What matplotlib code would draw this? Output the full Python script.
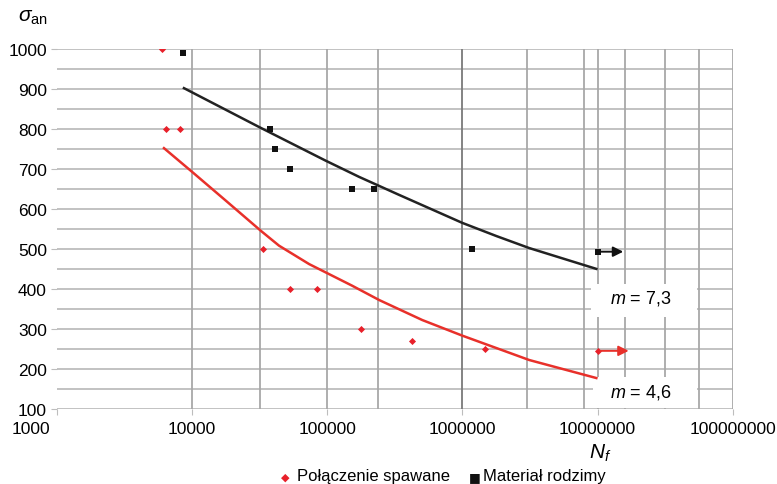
import matplotlib.pyplot as plt
from matplotlib.patches import Rectangle
from matplotlib.transforms import ScaledTranslation

plt.rcParams['font.family'] = ['Liberation Sans', 'DejaVu Sans']
plt.rcParams['mathtext.fontset'] = 'custom'
plt.rcParams['mathtext.rm'] = 'Liberation Sans'
plt.rcParams['mathtext.it'] = 'Liberation Sans:italic'

# punkty pomiarowe - połączenie spawane
weld_n = [6000, 6400, 8100, 33600, 53000, 84000, 178000, 427000, 1480000]
weld_s = [1000, 800, 800, 500, 400, 400, 300, 270, 250]
weld_runout = [10000000, 245]

# punkty pomiarowe - materiał rodzimy
base_n = [8600, 37800, 41200, 53000, 153000, 223000, 1170000]
base_s = [990, 800, 750, 700, 650, 650, 500]
base_runout = [10000000, 493]

# krzywe Wöhlera
base_curve_n = [8730, 31300, 55100, 98400, 172600, 341000, 1000000, 1790000, 3130000, 9800000]
base_curve_s = [902, 805, 763, 720, 680, 635, 565, 532, 502, 450]
weld_curve_n = [6210, 10000, 17900, 32400, 44100, 73600, 153000, 243000, 506000,
                1000000, 3130000, 9800000]
weld_curve_s = [752, 693, 620, 545, 508, 462, 408, 372, 322, 283, 222, 177]

x_ticks = [1000, 10000, 100000, 1000000, 10000000, 100000000]
x_grid = [1e4, 10**4.5, 1e5, 10**5.38, 1e6, 10**6.48, 10**6.9, 1e7, 10**7.2, 10**7.5, 10**7.75, 1e8]

fig = plt.figure(figsize=(7.77, 4.85), dpi=100)
ax = fig.add_axes([0.073, 0.155, 0.870, 0.742])

for y in range(100, 1001, 50):
    ax.axhline(y, color='#bdbdbd', lw=1.3, zorder=0)
for x in x_grid:
    ax.axvline(x, color='#7a7a7a' if x == 1e6 else '#a8a8a8', lw=1.3, zorder=0)

# białe tła pod opisami m
ax.add_patch(Rectangle((9.0e6, 330), 5.4e7 - 9.0e6, 82, facecolor='white', edgecolor='none', zorder=1))
ax.add_patch(Rectangle((9.3e6, 103), 5.45e7 - 9.3e6, 77, facecolor='white', edgecolor='none', zorder=1))

ax.plot(base_curve_n, base_curve_s, color='#222222', lw=1.8, zorder=3)
ax.plot(weld_curve_n, weld_curve_s, color='#e8302a', lw=1.8, zorder=3)

ax.scatter(weld_n, weld_s, marker='D', s=13, color='#e8202a', linewidths=0, zorder=4)
ax.scatter(base_n, base_s, marker='s', s=24, color='#111111', linewidths=0, zorder=4)
ax.scatter([weld_runout[0]], [weld_runout[1]], marker='D', s=13, color='#e8202a', linewidths=0, zorder=4)
ax.scatter([base_runout[0]], [base_runout[1]], marker='s', s=24, color='#111111', linewidths=0, zorder=4)

ax.annotate('', xy=(weld_runout[0] * 1.7, weld_runout[1]), xytext=(weld_runout[0] * 1.05, weld_runout[1]),
            arrowprops=dict(arrowstyle='-|>', color='#e8302a', lw=1.4, mutation_scale=15,
                            shrinkA=0, shrinkB=0), zorder=5)
ax.annotate('', xy=(base_runout[0] * 1.55, base_runout[1]), xytext=(base_runout[0] * 1.05, base_runout[1]),
            arrowprops=dict(arrowstyle='-|>', color='#111111', lw=1.4, mutation_scale=15,
                            shrinkA=0, shrinkB=0), zorder=5)

ax.text(2.1e7, 378, '$m$ = 7,3', fontsize=13, ha='center', va='center', zorder=6)
ax.text(2.1e7, 143, '$m$ = 4,6', fontsize=13, ha='center', va='center', zorder=6)

ax.set_xscale('log')
ax.set_xlim(1000, 1e8)
ax.set_ylim(100, 1000)
ax.set_xticks(x_ticks)
ax.set_xticklabels([str(v) for v in x_ticks])
ax.minorticks_off()
ax.set_yticks(range(100, 1001, 100))
ax.tick_params(labelsize=12.5, length=4, color='#bdbdbd', pad=3)
ax.tick_params(axis='x', pad=5)
for s in ax.spines.values():
    s.set_visible(False)

first = ax.get_xticklabels()[0]
first.set_ha('right')
first.set_transform(first.get_transform() + ScaledTranslation(-0.06, 0, fig.dpi_scale_trans))

fig.text(0.042, 0.963, r'$\sigma_{\mathrm{an}}$', fontsize=15, ha='center', va='center')
fig.text(0.772, 0.066, r'$N_f$', fontsize=15, ha='center', va='center')

fig.text(0.367, 0.008, '\u25c6', color='#e8202a', fontsize=8, ha='center', va='baseline', family='DejaVu Sans')
fig.text(0.382, 0.008, 'Połączenie spawane', fontsize=12, ha='left', va='baseline')
fig.text(0.611, 0.008, '\u25a0', color='#111111', fontsize=9, ha='center', va='baseline', family='DejaVu Sans')
fig.text(0.622, 0.008, 'Materiał rodzimy', fontsize=12, ha='left', va='baseline')

fig.savefig('out.png', dpi=100)
